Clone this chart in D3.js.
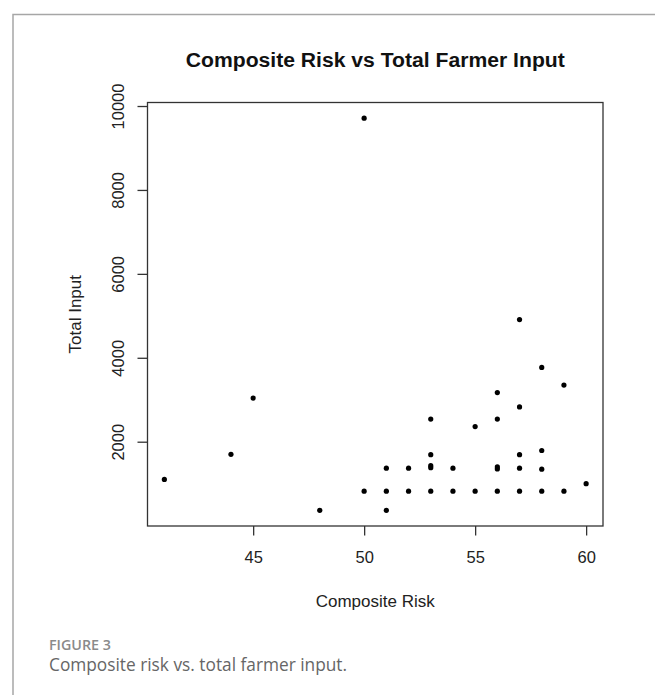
<!DOCTYPE html>
<html lang="en">
<head>
  <meta charset="UTF-8">
  <title>Composite Risk vs Total Farmer Input</title>
  <script src="https://d3js.org/d3.v7.min.js"></script>
  <style>
    body { margin: 0; background: #fff; }
    .rtext { font-family: "Liberation Sans", Arial, sans-serif; fill: #222; }
    .caption { font-family: "Open Sans", "Noto Sans", sans-serif; }
  </style>
</head>
<body>
<div class="canvas"></div>
<script>
  // points (x = composite risk, y = total input)
  const compositeRisk = [41, 44, 45, 48, 50, 50, 51, 51, 51, 52, 52, 53, 53, 53, 53, 53, 54, 54, 55, 55,
    56, 56, 56, 56, 56, 57, 57, 57, 57, 57, 58, 58, 58, 58, 59, 59, 60];
  const totalInput = [1100, 1700, 3040, 365, 820, 9710, 1370, 820, 365, 1370, 820, 2540, 1690, 1430, 1380, 820, 1370, 820, 2360, 820,
    3170, 2540, 1400, 1350, 820, 4910, 2830, 1690, 1370, 820, 3770, 1790, 1345, 820, 3350, 820, 1000];
  const xTicks = [45, 50, 55, 60];
  const yTicks = [2000, 4000, 6000, 8000, 10000];

  const W = 655, H = 695;
  const box = { left: 147.5, right: 603, top: 102.5, bottom: 526 };

  // R style: extend data range by 4% each side
  function padded(vals) {
    const [a, b] = d3.extent(vals);
    const r = b - a;
    return [a - 0.04 * r, b + 0.04 * r];
  }

  const x = d3.scaleLinear().domain(padded(compositeRisk)).range([box.left, box.right]);
  const y = d3.scaleLinear().domain(padded(totalInput)).range([box.bottom, box.top]);

  const svg = d3.select('.canvas').append('svg')
    .attr('width', W)
    .attr('height', H);

  // outer figure frame (top + left rule)
  svg.append('path')
    .attr('d', `M13,${H} V14.5 H${W}`)
    .attr('fill', 'none')
    .attr('stroke', '#a6a6a6')
    .attr('stroke-width', 1.5);

  // title
  svg.append('text')
    .attr('class', 'rtext')
    .attr('x', (box.left + box.right) / 2)
    .attr('y', 66.5)
    .attr('text-anchor', 'middle')
    .attr('font-size', 20)
    .attr('font-weight', 'bold')
    .attr('textLength', 379)
    .attr('lengthAdjust', 'spacingAndGlyphs')
    .style('fill', '#111')
    .text('Composite Risk vs Total Farmer Input');

  // plot box
  svg.append('rect')
    .attr('x', box.left)
    .attr('y', box.top)
    .attr('width', box.right - box.left)
    .attr('height', box.bottom - box.top)
    .attr('fill', 'none')
    .attr('stroke', '#333')
    .attr('stroke-width', 1.3);

  // x axis
  const xAxis = svg.append('g')
    .attr('transform', `translate(0,${box.bottom})`)
    .call(d3.axisBottom(x).tickValues(xTicks).tickSize(9.5).tickPadding(16).tickFormat(d3.format('d')));
  // y axis
  const yAxis = svg.append('g')
    .attr('transform', `translate(${box.left},0)`)
    .call(d3.axisLeft(y).tickValues(yTicks).tickSize(10).tickFormat(d3.format('d')));

  [xAxis, yAxis].forEach(g => {
    g.select('.domain').remove();
    g.selectAll('.tick line').attr('stroke', '#333').attr('stroke-width', 1.3);
    g.selectAll('.tick text')
      .attr('class', 'rtext')
      .attr('font-size', 16.5)
      .style('fill', '#222');
  });

  // rotate y tick labels like R (las = 0)
  yAxis.selectAll('.tick text')
    .attr('x', null)
    .attr('dy', null)
    .attr('text-anchor', 'middle')
    .attr('transform', 'translate(-23.5,0) rotate(-90)');

  // axis titles
  svg.append('text')
    .attr('class', 'rtext')
    .attr('x', (box.left + box.right) / 2)
    .attr('y', 606.5)
    .attr('text-anchor', 'middle')
    .attr('font-size', 17)
    .text('Composite Risk');

  svg.append('text')
    .attr('class', 'rtext')
    .attr('transform', `translate(81,${(box.top + box.bottom) / 2}) rotate(-90)`)
    .attr('text-anchor', 'middle')
    .attr('font-size', 17)
    .text('Total Input');

  // points (pch = 20)
  svg.append('g')
    .selectAll('circle')
    .data(compositeRisk.map((d, i) => [d, totalInput[i]]))
    .enter()
    .append('circle')
    .attr('cx', d => x(d[0]))
    .attr('cy', d => y(d[1]))
    .attr('r', 2.6)
    .attr('fill', '#000');

  // figure caption
  svg.append('text')
    .attr('class', 'caption')
    .attr('x', 49)
    .attr('y', 649.5)
    .attr('font-size', 13.5)
    .attr('font-weight', 600)
    .attr('textLength', 62)
    .attr('lengthAdjust', 'spacingAndGlyphs')
    .attr('fill', '#8a8a8a')
    .text('FIGURE 3');

  svg.append('text')
    .attr('class', 'caption')
    .attr('x', 49)
    .attr('y', 671)
    .attr('font-size', 17.3)
    .attr('fill', '#666')
    .text('Composite risk vs. total farmer input.');
</script>
</body>
</html>
